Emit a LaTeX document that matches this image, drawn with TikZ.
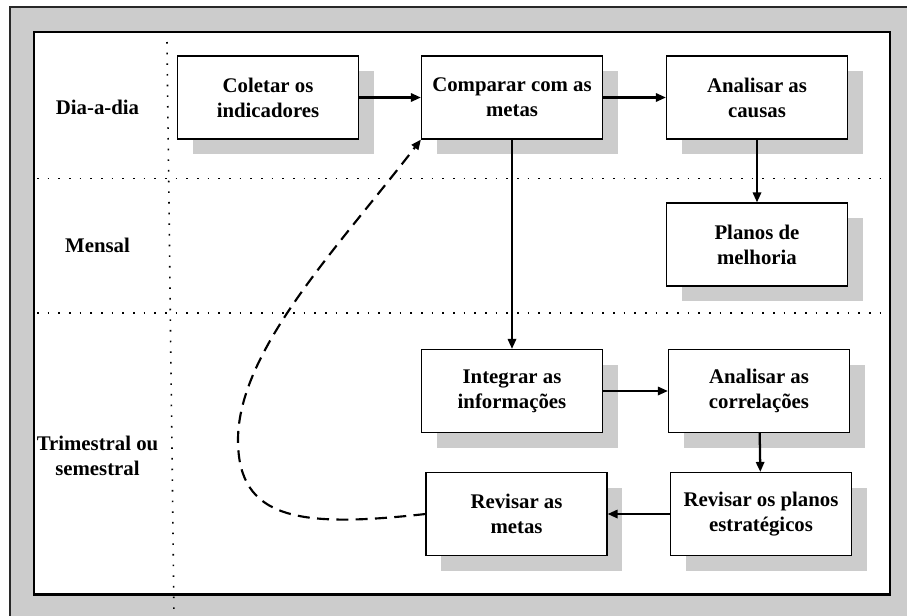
\documentclass[tikz,border=0pt]{standalone}
\usepackage{fontspec}
\setmainfont{Liberation Serif}
\usetikzlibrary{arrows.meta,shadows}
\definecolor{panelgray}{RGB}{204,204,204}
\definecolor{framegray}{RGB}{40,40,40}
\begin{document}
\begin{tikzpicture}[x=0.75pt,y=-0.75pt,
  every node/.style={font=\bfseries\fontsize{15.6}{18.8}\selectfont, align=center},
  stepbox/.style={draw=black, line width=0.85pt, fill=white,
    minimum width=135.75pt, minimum height=62.25pt, inner sep=0pt,
    general shadow={fill=panelgray, shadow xshift=11.25pt, shadow yshift=-11.5pt}},
  flow/.style={line width=1.7pt, -{Triangle[length=7.5pt,width=6.2pt]}},
  feedback/.style={line width=1.6pt, dash pattern=on 9pt off 5.5pt,
    -{Triangle[length=7.5pt,width=6.2pt]}},
  rowsep/.style={line width=1.2pt, dash pattern=on 1.2pt off 6.8pt}
]
\useasboundingbox (0,0) rectangle (907,615);
\fill[white] (0,0) rectangle (907,615);
% outer grey panel and inner white frame
\fill[panelgray] (10,7) rectangle (920,630);
\draw[framegray, line width=0.8pt] (10,630) -- (10,7) -- (920,7);
\draw[fill=white, draw=black, line width=1.6pt] (34,32) rectangle (890,594.5);

% period separators
\draw[rowsep] (37,178.5) -- (890,178.5);
\draw[rowsep] (37,313) -- (890,313);
\draw[rowsep] (167,42) -- (174,615);

% period labels
\node (dia) at (97.5,107) {Dia-a-dia};
\node (mensal) at (97.5,245) {Mensal};
\node (trim) at (97.5,456) {Trimestral ou\\semestral};

% process steps
\node[stepbox] (coletar) at (268,97.5) {Coletar os\\indicadores};
\node[stepbox] (comparar) at (512,97.5) {Comparar com as\\metas};
\node[stepbox] (causas) at (757,97.5) {Analisar as\\causas};
\node[stepbox] (planos) at (757,244.5) {Planos de\\melhoria};
\node[stepbox] (integrar) at (512,391) {Integrar as\\informações};
\node[stepbox] (correl) at (759,391) {Analisar as\\correlações};
\node[stepbox] (revplanos) at (761,514) {Revisar os planos\\estratégicos};
\node[stepbox] (revmetas) at (516.5,514) {Revisar as\\metas};

% connectors
\draw[flow] (coletar) -- (comparar);
\draw[flow] (comparar) -- (causas);
\draw[flow] (causas) -- (planos);
\draw[flow] (comparar) -- (integrar);
\draw[flow] (integrar) -- (correl);
\draw[flow] (correl) -- (revplanos);
\draw[flow] (revplanos) -- (revmetas);

% feedback loop back to the targets
\coordinate (turn) at (238,440);
\draw[feedback] (revmetas.west) .. controls (300,528) and (238,520) .. (turn)
  .. controls (238,350) and (340,245) .. (comparar.south west);
\end{tikzpicture}
\end{document}
